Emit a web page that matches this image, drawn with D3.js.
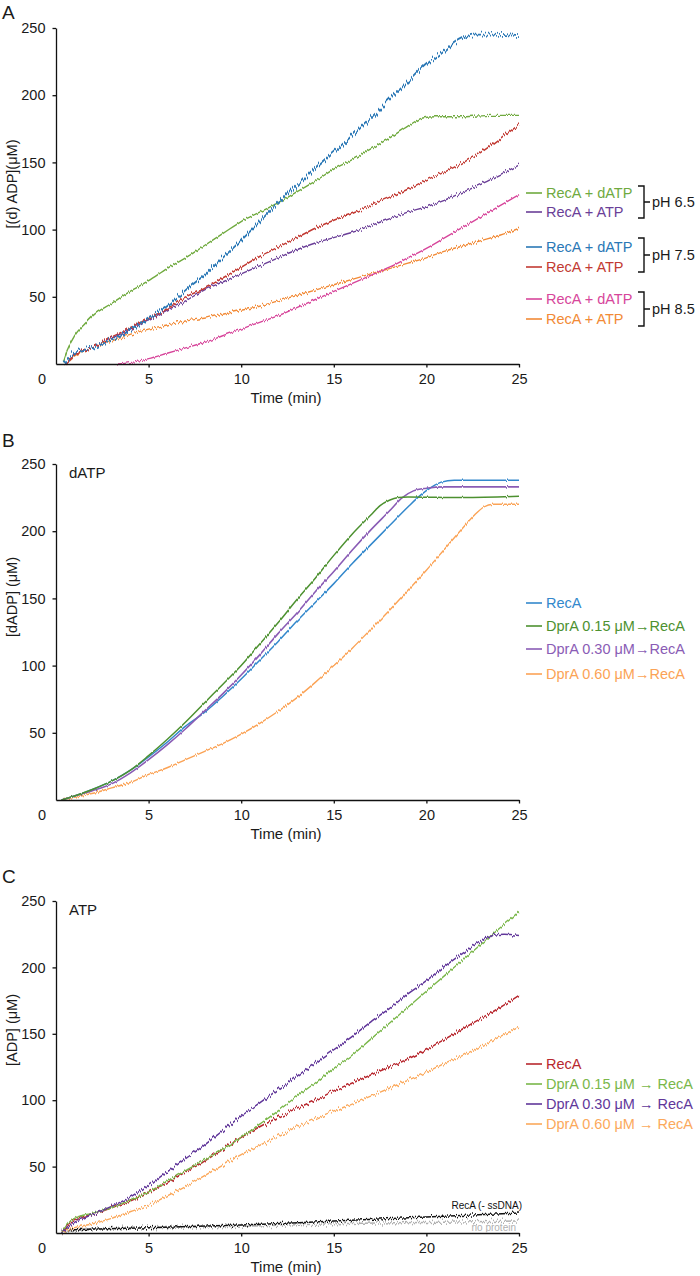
<!DOCTYPE html>
<html>
<head>
<meta charset="utf-8">
<script src="https://cdn.jsdelivr.net/npm/d3@7/dist/d3.min.js"></script>
<style>
  html, body { margin: 0; padding: 0; background: #fff; }
  svg { display: block; font-family: "Liberation Sans", Arial, sans-serif; }
  .axis path, .axis line { stroke: #111; stroke-width: 1.3; }
  .axis text { font-size: 14.5px; fill: #1a1a1a; font-family: "Liberation Sans", Arial, sans-serif; }
</style>
</head>
<body>
<svg id="chart" width="700" height="1276"></svg>
<script>
// ---------------- DATA (time in min, concentration in µM) ----------------
const xTicks = [5, 10, 15, 20, 25];
const yTicks = [50, 100, 150, 200, 250];

// Panel A
const aLabels = ["RecA + dATP", "RecA + ATP", "RecA + dATP", "RecA + ATP", "RecA + dATP", "RecA + ATP"];
const aGroups = ["pH 6.5", "pH 7.5", "pH 8.5"];
const aDatp65 = [[0.4,2],[0.6,10],[1,21],[1.5,29],[2,36],[3,45],[4,54],[5,62],[6,71],[7,79],[8,88],[9,97],[10,106],[11,113],[12,120],[13,128],[14,136],[15,145],[16,152],[17,160],[18,168],[19,177],[19.8,183],[20.5,184],[22,184],[23.5,185],[25,185]];
const aAtp65  = [[0.5,0],[1,7],[2,12],[3,19],[4,26],[5,33],[6,40],[7,47],[8,55],[9,61],[10,67],[11,73],[12,79],[13,85],[14,90],[15,94],[16,98],[17,103],[18,108],[19,113],[20,117],[21,122],[22,128],[23,134],[24,141],[25,148]];
const aDatp75 = [[0.4,0],[1,8],[2,12],[3,18],[4,25],[5,34],[6,43],[7,55],[8,66],[9,79],[10,92],[11,106],[12,120],[13,133],[14,146],[15,158],[16,170],[17,183],[18,197],[19,210],[20,223],[21,233],[21.5,239],[22,243],[22.5,245],[23.5,245],[25,244]];
const aAtp75  = [[0.5,0],[1,7],[2,12],[3,20],[4,27],[5,34],[6,41],[7,50],[8,56],[9,64],[10,72],[11,80],[12,87],[13,94],[14,101],[15,107],[16,112],[17,118],[18,124],[19,130],[20,137],[21,143],[22,150],[23,158],[24,168],[25,178]];
const aDatp85 = [[3.3,0],[4,1],[5,4],[6,8],[7,12],[8,16],[9,21],[10,26],[11,31],[12,36],[13,42],[14,48],[15,54],[16,60],[17,66],[18,72],[19,79],[20,86],[21,94],[22,102],[23,110],[24,118],[25,126]];
const aAtp85  = [[0.5,0],[1,6],[2,12],[3,17],[4,22],[5,26],[6,29],[7,32],[8,34],[9,37],[10,40],[11,43],[12,47],[13,51],[14,55],[15,59],[16,63],[17,67],[18,71],[19,75],[20,79],[21,84],[22,88],[23,92],[24,96],[25,101]];

// Panel B (dATP)
const bLabels = ["RecA", "DprA 0.15 μM\u2192RecA", "DprA 0.30 μM\u2192RecA", "DprA 0.60 μM\u2192RecA"];
const bRecA   = [[0.3,0],[1,3],[2,8],[3,14],[4,22],[5,32],[6,43],[7,55],[8,65],[9,77],[10,90],[11,104],[12,118],[13,133],[14,147],[15,161],[16,176],[17,190],[18,204],[19,218],[19.7,227],[20.3,233],[20.8,236.5],[21.5,238],[23,238],[25,238]];
const bD015   = [[0.3,0],[1,3],[2,8],[3,14],[4,22],[5,33],[6,45],[7,58],[8,72],[9,86],[10,100],[11,116],[12,132],[13,149],[14,165],[15,182],[16,198],[17,212],[17.5,219],[18,223],[18.5,225],[19,225.5],[22,225],[25,226]];
const bD030   = [[0.3,0],[1,3],[2,7],[3,12],[4,20],[5,30],[6,41],[7,53],[8,66],[9,79],[10,93],[11,108],[12,124],[13,139],[14,155],[15,170],[16,186],[17,201],[18,215],[18.7,225],[19.3,230],[20,232],[21,233],[25,233]];
const bD060   = [[0.3,0],[1,2],[2,5],[3,9],[4,13],[5,19],[6,24],[7,30],[8,36],[9,42],[10,49],[11,57],[12,66],[13,76],[14,87.5],[15,100],[16,113],[17,127],[18,141],[19,156],[20,171],[21,187],[22,203],[22.6,212],[23.1,218],[23.6,220],[25,220]];

// Panel C (ATP)
const cLabels = ["RecA", "DprA 0.15 μM \u2192 RecA", "DprA 0.30 μM \u2192 RecA", "DprA 0.60 μM \u2192 RecA"];
const cRecA   = [[0.3,0],[0.7,7],[1,10],[2,14],[3,19],[4,24],[5,31],[6,38],[7,46],[8,54],[9,63],[10,72],[11,80],[12,87],[13,94],[14,100],[15,107],[16,113],[17,119],[18,125],[19,131],[20,138],[21,146],[22,154],[23,162],[24,170],[25,179]];
const cD015   = [[0.3,0],[0.7,8],[1,11],[2,15],[3,19],[4,25],[5,31],[6,39],[7,47],[8,55],[9,63],[10,72],[11,82],[12,92],[13,103],[14,113],[15,124],[16,134],[17,146],[18,158],[19,170],[20,182],[21,194],[22,206],[23,218],[24,230],[25,242]];
const cD030   = [[0.3,0],[1,8],[2,14],[3,20],[4,27],[5,36],[6,46],[7,56],[8,66],[9,77],[10,88],[11,98],[12,108],[13,118],[14,128],[15,138],[16,148],[17,159],[18,169],[19,180],[20,190],[21,201],[22,211],[23,220],[23.6,224],[24.2,225],[25,224]];
const cD060   = [[0.3,0],[1,4],[2,7],[3,11],[4,16],[5,21],[6,28],[7,35],[8,43],[9,51],[10,59],[11,66],[12,73],[13,80],[14,86],[15,92],[16,97],[17,103],[18,109],[19,115],[20,121],[21,128],[22,134],[23,141],[24,148],[25,155]];
const cNoDNA  = [[0.3,2],[2,3],[5,4],[10,6],[15,9],[20,12],[25,15]];
const cNoProt = [[0.3,1],[2,3],[5,4],[10,5],[15,7],[20,8],[25,9]];

// ---------------- DRAWING ----------------
const svg = d3.select("#chart");
const defs = svg.append("defs");
// visual texture only: vertical jitter of the rendered stroke (no data change)
function noiseFilter(id, scale, seed) {
  const f = defs.append("filter").attr("id", id).attr("color-interpolation-filters", "sRGB")
    .attr("filterUnits", "userSpaceOnUse").attr("x", 0).attr("y", 0).attr("width", 700).attr("height", 1276);
  f.append("feTurbulence").attr("type", "fractalNoise").attr("baseFrequency", "0.8 0.004")
    .attr("numOctaves", 1).attr("seed", seed).attr("result", "t");
  f.append("feColorMatrix").attr("in", "t").attr("type", "matrix")
    .attr("values", "0 0 0 0 0.5  0 1 0 0 0  0 0 0 0 0  0 0 0 0 1").attr("result", "m");
  f.append("feDisplacementMap").attr("in", "SourceGraphic").attr("in2", "m")
    .attr("scale", scale).attr("xChannelSelector", "R").attr("yChannelSelector", "G");
}
noiseFilter("nzB", 3, 11);
noiseFilter("nz0", 5, 7);
noiseFilter("nz1", 8, 3);
noiseFilter("nz2", 13, 5);

const X0 = 56, X1 = 519;
const x = d3.scaleLinear().domain([0, 25]).range([X0, X1]);

function panel(cfg) {
  const y = d3.scaleLinear().domain([0, 250]).range([cfg.y0, cfg.y1]);
  const g = svg.append("g");
  const line = d3.line().x(d => x(d[0])).y(d => y(d[1])).curve(d3.curveMonotoneX);
  cfg.series.forEach(s => {
    g.append("path").datum(s.data).attr("fill", "none").attr("stroke", s.color)
      .attr("stroke-width", s.w || 1.4).attr("filter", `url(#${s.nz})`).attr("d", line);
  });
  // axes
  g.append("g").attr("class", "axis").attr("transform", `translate(0,${cfg.y0})`)
    .call(d3.axisBottom(x).tickValues(xTicks).tickSize(3.5).tickSizeOuter(0).tickPadding(6.5));
  g.append("g").attr("class", "axis").attr("transform", `translate(${X0},0)`)
    .call(d3.axisLeft(y).tickValues(yTicks).tickSize(3.5).tickSizeOuter(0).tickPadding(7));
  g.append("text").attr("x", X0 - 14).attr("y", cfg.y0 + 10).attr("dy", "0.71em")
    .attr("text-anchor", "middle").attr("font-size", 14.5).attr("fill", "#1a1a1a").text("0");
  g.append("text").attr("x", 286).attr("y", cfg.y0 + 39).attr("text-anchor", "middle")
    .attr("font-size", 15).attr("fill", "#1a1a1a").text("Time (min)");
  g.append("text").attr("transform", `translate(17,${cfg.ytitleY}) rotate(-90)`)
    .attr("text-anchor", "middle").attr("font-size", 14.5).attr("fill", "#1a1a1a").text(cfg.ytitle);
  g.append("text").attr("x", 2).attr("y", cfg.letterY).attr("font-size", 19).attr("fill", "#1a1a1a").text(cfg.letter);
  if (cfg.inner) g.append("text").attr("x", 69).attr("y", cfg.y1 + 14).attr("font-size", 15)
    .attr("fill", "#1a1a1a").text(cfg.inner);
  // legend
  cfg.legend.forEach((l, i) => {
    const ly = cfg.legendY[i];
    g.append("line").attr("x1", 526).attr("x2", 542).attr("y1", ly).attr("y2", ly)
      .attr("stroke", l.color).attr("stroke-width", 1.6);
    g.append("text").attr("x", 546).attr("y", ly).attr("dy", "0.35em").attr("font-size", 14.5)
      .attr("fill", l.color).text(l.label);
  });
  return { g, y };
}

// Panel A
const colA = { g: "#70aa3f", p: "#6b3f98", b: "#2b78b6", r: "#c23a33", pk: "#d7469b", o: "#f28a36" };
const pA = panel({
  y0: 364, y1: 28, letter: "A", letterY: 19, ytitle: "[(d) ADP](μM)", ytitleY: 184,
  series: [
    { data: aAtp85, color: colA.o, nz: "nz1" },
    { data: aDatp85, color: colA.pk, nz: "nz0" },
    { data: aAtp65, color: colA.p, nz: "nz1" },
    { data: aAtp75, color: colA.r, nz: "nz1", w: 1.5 },
    { data: aDatp65, color: colA.g, nz: "nz0" },
    { data: aDatp75, color: colA.b, nz: "nz2", w: 1.8 }
  ],
  legend: aLabels.map((l, i) => ({ label: l, color: [colA.g, colA.p, colA.b, colA.r, colA.pk, colA.o][i] })),
  legendY: [193, 212, 247, 267, 299, 319]
});
// pH brackets
const brackets = [[186, 218], [238, 272], [292, 326]];
brackets.forEach((b, i) => {
  pA.g.append("path").attr("fill", "none").attr("stroke", "#111").attr("stroke-width", 1.4)
    .attr("d", `M638,${b[0]}H644V${b[1]}H638M644,${(b[0] + b[1]) / 2}H650`);
  pA.g.append("text").attr("x", 652).attr("y", (b[0] + b[1]) / 2).attr("dy", "0.35em")
    .attr("font-size", 14.5).attr("fill", "#1a1a1a").text(aGroups[i]);
});

// Panel B
const colB = { b: "#3388cc", g: "#4d9130", p: "#8a5cb5", o: "#fba356" };
panel({
  y0: 800, y1: 464, letter: "B", letterY: 447, ytitle: "[dADP] (μM)", ytitleY: 597, inner: "dATP",
  series: [
    { data: bD060, color: colB.o, nz: "nz0" },
    { data: bRecA, color: colB.b, nz: "nzB", w: 1.5 },
    { data: bD030, color: colB.p, nz: "nzB", w: 1.6 },
    { data: bD015, color: colB.g, nz: "nzB", w: 1.5 }
  ],
  legend: bLabels.map((l, i) => ({ label: l, color: [colB.b, colB.g, colB.p, colB.o][i] })),
  legendY: [603, 626, 649, 674]
});

// Panel C
const colC = { r: "#b8282f", g: "#7ab74a", p: "#61379a", o: "#fba95c" };
const pC = panel({
  y0: 1233, y1: 901, letter: "C", letterY: 883, ytitle: "[ADP] (μM)", ytitleY: 1030, inner: "ATP",
  series: [
    { data: cNoProt, color: "#b0b0b0", nz: "nz2", w: 1.5 },
    { data: cNoDNA, color: "#111111", nz: "nz1", w: 1.5 },
    { data: cD060, color: colC.o, nz: "nz1" },
    { data: cRecA, color: colC.r, nz: "nz1", w: 1.5 },
    { data: cD015, color: colC.g, nz: "nz0" },
    { data: cD030, color: colC.p, nz: "nz1", w: 1.5 }
  ],
  legend: cLabels.map((l, i) => ({ label: l, color: [colC.r, colC.g, colC.p, colC.o][i] })),
  legendY: [1064, 1084, 1104, 1124]
});
pC.g.append("text").attr("x", 522).attr("y", 1209).attr("text-anchor", "end").attr("font-size", 10)
  .attr("fill", "#111").text("RecA (- ssDNA)");
pC.g.append("text").attr("x", 516).attr("y", 1231).attr("text-anchor", "end").attr("font-size", 10)
  .attr("fill", "#b0b0b0").text("no protein");
</script>
</body>
</html>
